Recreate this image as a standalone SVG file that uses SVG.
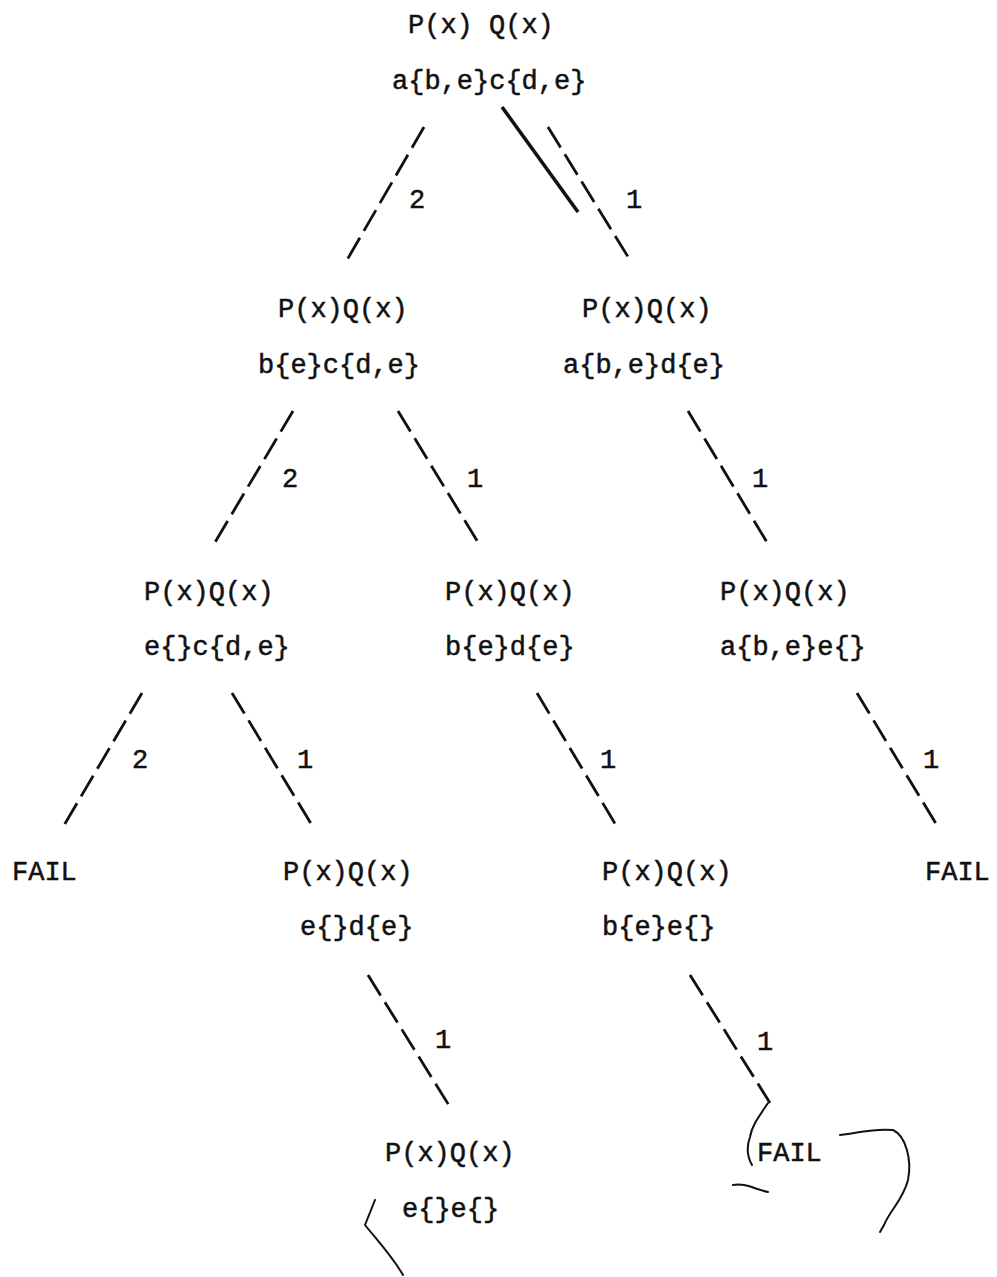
<svg xmlns="http://www.w3.org/2000/svg" width="997" height="1277" viewBox="0 0 997 1277">
<style>
text{font-family:"Liberation Mono","DejaVu Sans Mono",monospace;font-size:27px;fill:#111;stroke:#111;stroke-width:0.5}
.e{stroke:#111;stroke-width:2.8;stroke-dasharray:24 8;fill:none}
.s{stroke:#111;stroke-width:3.6;fill:none}
.h{stroke:#111;stroke-width:2;fill:none;stroke-linecap:round}
</style>
<rect width="997" height="1277" fill="#fff"/>
<g id="connectors">
<line class="e" x1="424" y1="127" x2="347" y2="260"/>
<line class="e" x1="548" y1="127" x2="630" y2="260"/>
<line class="s" x1="502" y1="107" x2="578" y2="212"/>
<line class="e" x1="293" y1="411" x2="214" y2="544"/>
<line class="e" x1="398" y1="411" x2="479" y2="544"/>
<line class="e" x1="688" y1="411" x2="768" y2="544"/>
<line class="e" x1="142" y1="693" x2="63" y2="827"/>
<line class="e" x1="232" y1="693" x2="313" y2="827"/>
<line class="e" x1="537" y1="693" x2="617" y2="827"/>
<line class="e" x1="857" y1="693" x2="938" y2="827"/>
<line class="e" x1="368" y1="975" x2="450" y2="1107"/>
<line class="e" x1="690" y1="975" x2="770" y2="1103"/>
<text x="409" y="208">2</text>
<text x="626" y="208">1</text>
<text x="282" y="487">2</text>
<text x="467" y="487">1</text>
<text x="752" y="487">1</text>
<text x="132" y="768">2</text>
<text x="297" y="768">1</text>
<text x="600" y="768">1</text>
<text x="923" y="768">1</text>
<text x="435" y="1048">1</text>
<text x="757" y="1050">1</text>
</g>
<g id="marks">
<path class="h" d="M840,1135 C860,1133 872,1128 893,1130 C906,1136 912,1160 908,1180 C903,1200 890,1210 884,1225 L880,1232"/>
<path class="h" d="M768,1103 C760,1115 752,1125 750,1137 C746,1148 748,1158 752,1165"/>
<path class="h" d="M733,1185 C745,1183 752,1188 768,1192"/>
<path class="h" d="M375,1200 L365,1225 C377,1240 392,1256 403,1275"/>
</g>
<g id="n_root"><text x="408" y="33">P(x) Q(x)</text><text x="392" y="89">a{b,e}c{d,e}</text></g>
<g id="n_l2a"><text x="278" y="317">P(x)Q(x)</text><text x="258" y="373">b{e}c{d,e}</text></g>
<g id="n_l2b"><text x="582" y="317">P(x)Q(x)</text><text x="563" y="373">a{b,e}d{e}</text></g>
<g id="n_l3a"><text x="144" y="600">P(x)Q(x)</text><text x="144" y="655">e{}c{d,e}</text></g>
<g id="n_l3b"><text x="445" y="600">P(x)Q(x)</text><text x="445" y="655">b{e}d{e}</text></g>
<g id="n_l3c"><text x="720" y="600">P(x)Q(x)</text><text x="720" y="655">a{b,e}e{}</text></g>
<g id="n_fail1"><text x="12" y="880">FAIL</text></g>
<g id="n_l4a"><text x="283" y="880">P(x)Q(x)</text><text x="300" y="935">e{}d{e}</text></g>
<g id="n_l4b"><text x="602" y="880">P(x)Q(x)</text><text x="602" y="935">b{e}e{}</text></g>
<g id="n_fail2"><text x="925" y="880">FAIL</text></g>
<g id="n_l5a"><text x="385" y="1161">P(x)Q(x)</text><text x="402" y="1217">e{}e{}</text></g>
<g id="n_fail3"><text x="757" y="1161">FAIL</text></g>
</svg>
